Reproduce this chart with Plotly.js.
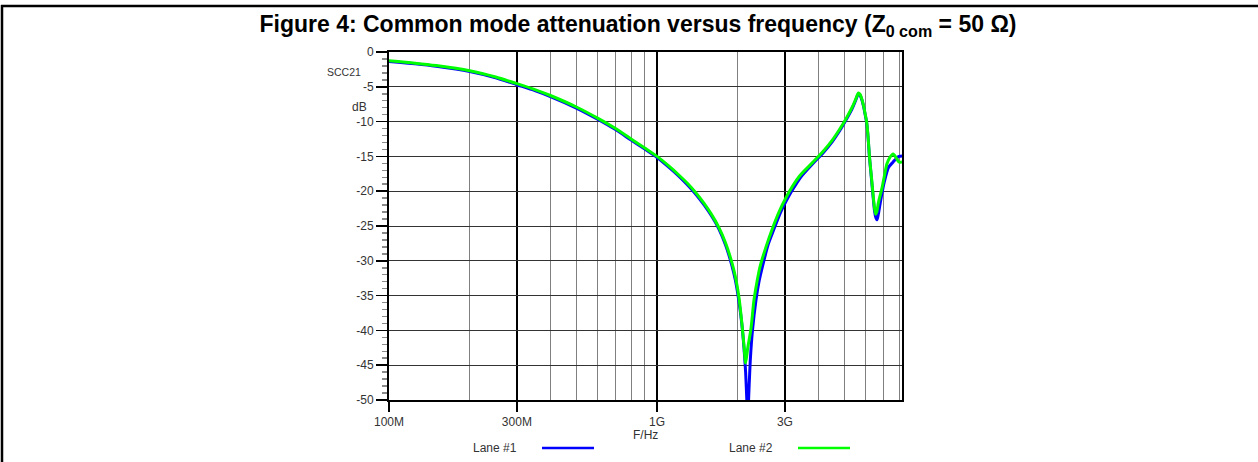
<!DOCTYPE html>
<html>
<head>
<meta charset="utf-8">
<script src="https://cdn.plot.ly/plotly-3.0.1.min.js"></script>
<style>html,body{margin:0;padding:0;background:#fff;}#chart{width:1258px;height:462px;}</style>
</head>
<body>
<div id="chart"></div>
<script>
// ---- data (frequency in GHz, SCC21 in dB) ----
const seriesNames = ["Lane #1", "Lane #2"];
const freqLane1 = [0.1,0.125,0.15,0.2,0.25,0.3,0.35,0.4,0.5,0.6,0.7,0.8,0.9,1.0,1.1,1.2,1.3,1.4,1.5,1.6,1.7,1.8,1.9,1.96,2.02,2.07,2.11,2.14,2.165,2.18,2.2,2.23,2.27,2.34,2.4,2.47,2.6,2.72,2.9,3.08,3.25,3.45,3.8,4.16,4.5,4.82,5.1,5.35,5.5,5.64,5.72,5.8,5.9,5.97,6.06,6.13,6.2,6.3,6.39,6.48,6.55,6.62,6.7,6.85,7.05,7.3,7.6,7.85,8.0,8.2];
const sccLane1 = [-1.35,-1.7,-2.05,-2.8,-3.7,-4.7,-5.55,-6.4,-8.05,-9.65,-11.15,-12.65,-13.95,-15.15,-16.45,-17.75,-19.1,-20.5,-22.0,-23.6,-25.4,-27.7,-30.6,-32.8,-35.8,-39.0,-42.5,-46.0,-50.5,-53.0,-49.0,-44.0,-40.0,-35.6,-33.0,-30.9,-27.6,-25.6,-22.9,-20.9,-19.4,-17.9,-16.1,-14.5,-12.9,-11.2,-9.6,-8.1,-7.0,-6.0,-6.2,-6.8,-7.9,-8.9,-10.3,-12.4,-15.1,-18.0,-20.6,-22.9,-23.8,-24.1,-23.2,-21.0,-18.6,-16.6,-15.8,-15.2,-15.0,-14.95];
const freqLane2 = [0.1,0.125,0.15,0.2,0.25,0.3,0.35,0.4,0.5,0.6,0.7,0.8,0.9,1.0,1.1,1.2,1.3,1.4,1.5,1.6,1.7,1.8,1.9,1.96,2.02,2.07,2.11,2.14,2.18,2.24,2.30,2.36,2.42,2.55,2.68,2.85,3.05,3.2,3.42,3.8,4.16,4.5,4.82,5.1,5.35,5.5,5.64,5.72,5.8,5.9,5.97,6.06,6.13,6.2,6.3,6.39,6.47,6.54,6.6,6.7,6.9,7.05,7.2,7.4,7.6,7.8,7.98,8.2];
const sccLane2 = [-1.25,-1.6,-1.95,-2.7,-3.6,-4.55,-5.4,-6.25,-7.9,-9.5,-11.0,-12.5,-13.8,-15.0,-16.3,-17.6,-18.9,-20.3,-21.8,-23.4,-25.2,-27.4,-30.2,-32.3,-35.2,-38.8,-42.2,-44.7,-42.5,-39.8,-35.6,-33.0,-30.9,-28.0,-25.6,-23.0,-20.7,-19.3,-17.7,-15.9,-14.3,-12.7,-11.0,-9.4,-7.9,-6.85,-5.9,-6.1,-6.7,-7.8,-8.8,-10.2,-12.3,-15.0,-17.8,-20.3,-22.3,-23.3,-23.0,-21.6,-19.6,-17.8,-16.1,-15.1,-14.65,-15.2,-15.8,-15.8];
const majorTickHz = [1e8, 3e8, 1e9, 3e9];
const majorTickText = ["100M", "300M", "1G", "3G"];
const minorGridHz = [2e8,4e8,5e8,6e8,7e8,8e8,9e8,2e9,4e9,5e9,6e9,7e9,8e9];
const yTicks = [0,-5,-10,-15,-20,-25,-30,-35,-40,-45,-50];
const yTickText = ["0","-5","-10","-15","-20","-25","-30","-35","-40","-45","-50"];

const toHz = a => a.map(v => v * 1e9);
const colors = ["#0000ff", "#00ff00"];

const traces = [
  {x: toHz(freqLane1), y: sccLane1, name: seriesNames[0], mode: "lines", line: {color: colors[0], width: 3, shape: "spline", smoothing: 0.7}},
  {x: toHz(freqLane2), y: sccLane2, name: seriesNames[1], mode: "lines", line: {color: colors[1], width: 3, shape: "spline", smoothing: 0.7}}
];

const L = 389, R = 902, T = 52, B = 400, W = 1258, H = 462;
const px = x => (x - L) / (R - L);
const py = y => (B - y) / (B - T);
const fam = "Arial, 'Liberation Sans', sans-serif";
const font = {family: fam, size: 12, color: "#333"};

const layout = {
  width: W, height: H,
  margin: {l: L, r: W - R, t: T, b: H - B, pad: 0},
  paper_bgcolor: "#fff", plot_bgcolor: "#fff",
  showlegend: false,
  font: font,
  title: {
    text: "<b>Figure 4: Common mode attenuation versus frequency (Z<sub>0 com</sub> = 50 Ω)</b>",
    font: {family: fam, size: 23, color: "#000"},
    x: 638 / W, xanchor: "center", xref: "container",
    y: 1 - 24 / H, yanchor: "middle", yref: "container"
  },
  xaxis: {
    type: "log", range: [8, Math.log10(8.2e9)],
    tickmode: "array", tickvals: majorTickHz, ticktext: majorTickText,
    ticks: "outside", ticklen: 10, tickwidth: 1.5, tickcolor: "#000",
    showgrid: true, gridcolor: "#000", gridwidth: 1.3,
    showline: true, linecolor: "#000", linewidth: 2, mirror: true,
    zeroline: false, tickfont: font,
    minor: {tickmode: "array", tickvals: minorGridHz, showgrid: true, gridcolor: "#808080", gridwidth: 1, ticks: ""}
  },
  yaxis: {
    range: [-50, 0], tickmode: "array", tickvals: yTicks, ticktext: yTickText,
    ticks: "outside", ticklen: 11, tickwidth: 1.5, tickcolor: "#000",
    showgrid: true, gridcolor: "#333", gridwidth: 1,
    showline: true, linecolor: "#000", linewidth: 2, mirror: true,
    zeroline: false, tickfont: font,
    minor: {dtick: 1, ticks: "outside", ticklen: 5, tickwidth: 1.5, tickcolor: "#8a8a8a", showgrid: false}
  },
  annotations: [
    {text: "SCC21", x: px(344), y: py(72), xref: "paper", yref: "paper", showarrow: false, font: {family: fam, size: 10.5, color: "#333"}, xanchor: "center", yanchor: "middle"},
    {text: "dB", x: px(359), y: py(107), xref: "paper", yref: "paper", showarrow: false, font: font, xanchor: "center", yanchor: "middle"},
    {text: "F/Hz", x: px(645), y: py(435), xref: "paper", yref: "paper", showarrow: false, font: font, xanchor: "center", yanchor: "middle"},
    {text: seriesNames[0], x: px(495), y: py(448), xref: "paper", yref: "paper", showarrow: false, font: font, xanchor: "center", yanchor: "middle"},
    {text: seriesNames[1], x: px(751), y: py(448), xref: "paper", yref: "paper", showarrow: false, font: font, xanchor: "center", yanchor: "middle"}
  ],
  shapes: [
    {type: "line", xref: "paper", yref: "paper", x0: px(542), x1: px(594), y0: py(448), y1: py(448), line: {color: colors[0], width: 2.5}},
    {type: "line", xref: "paper", yref: "paper", x0: px(798), x1: px(850), y0: py(448), y1: py(448), line: {color: colors[1], width: 2.5}},
    {type: "line", xref: "paper", yref: "paper", x0: px(1), x1: px(W), y0: py(6), y1: py(6), line: {color: "#000", width: 2.5}},
    {type: "line", xref: "paper", yref: "paper", x0: px(2), x1: px(2), y0: py(5), y1: py(H), line: {color: "#000", width: 2.5}}
  ]
};

Plotly.newPlot("chart", traces, layout, {displayModeBar: false, staticPlot: true});
</script>
</body>
</html>
